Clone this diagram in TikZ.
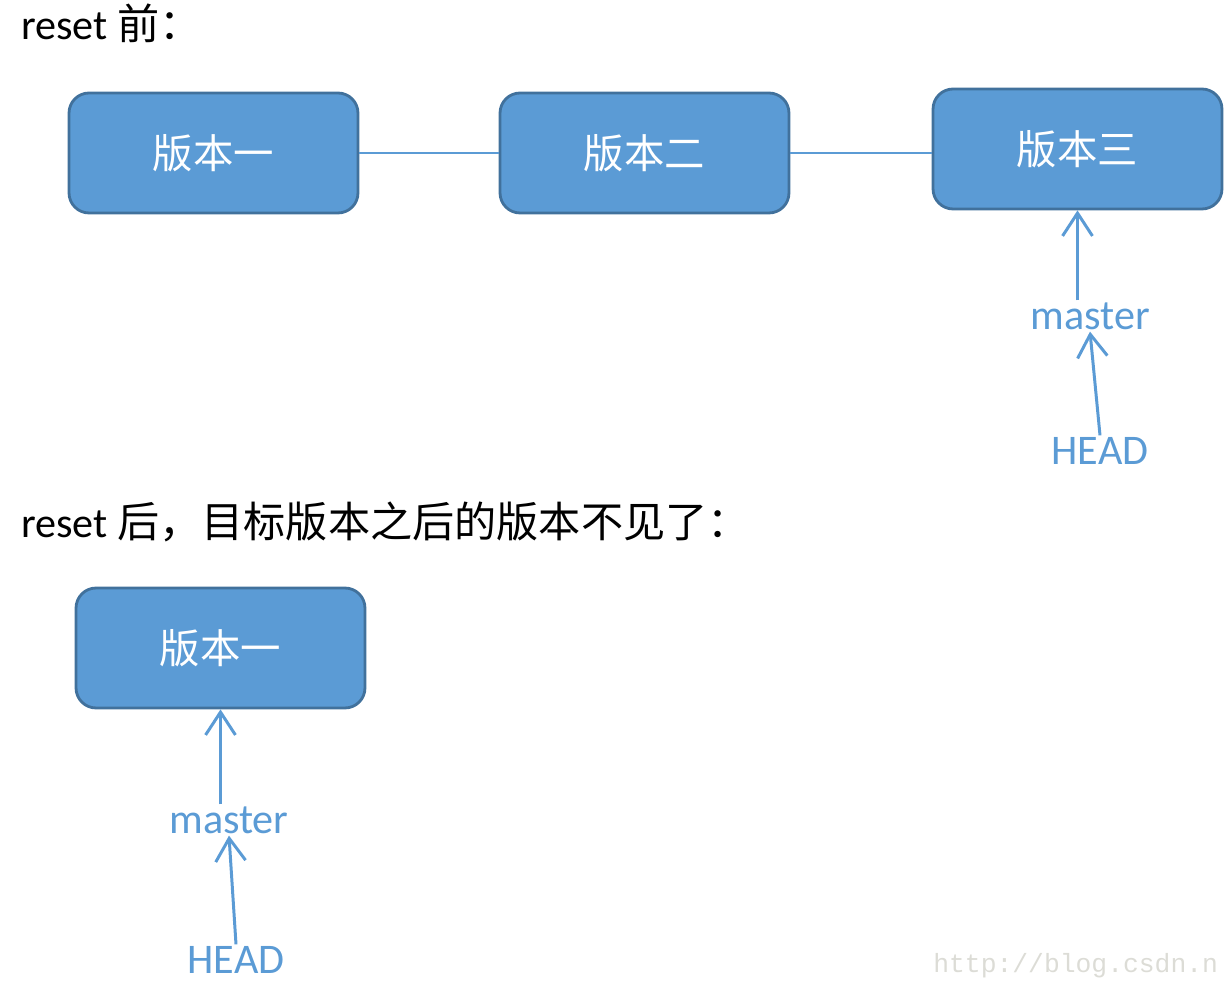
\documentclass[tikz,border=0pt]{standalone}
\usepackage{fontspec}
\setmainfont{Carlito}
\newfontfamily\cjk{Noto Sans CJK SC}
\newfontfamily\wmark{Liberation Mono}
\usetikzlibrary{arrows.meta}
\definecolor{boxfill}{HTML}{5B9BD5}
\definecolor{boxline}{HTML}{41719C}
\definecolor{marktext}{HTML}{DCDCD6}
\begin{document}
\begin{tikzpicture}[x=0.02cm,y=-0.02cm,
    ver/.style={draw=boxline,fill=boxfill,line width=1.6pt,rounded corners=0.4cm,
        minimum width=5.78cm,minimum height=2.4cm,text=white,font=\cjk\fontsize{23}{27}\selectfont},
    ptr/.style={text=boxfill,inner sep=1pt,font=\fontsize{24}{28}\selectfont},
    link/.style={draw=boxfill,line width=1.3pt},
    ptrarrow/.style={draw=boxfill,line width=1.7pt,-{Straight Barb[length=13pt,width=17pt,line width=1.7pt]}}]
        \useasboundingbox (0,0) rectangle (1227,996);
        \node[anchor=base west,font=\fontsize{24}{28}\selectfont] (t1) at (15,40) {reset {\cjk 前：}};
        \node[ver] (v1) at (213.5,153) {版本一};
        \node[ver] (v2) at (644.5,153) {版本二};
        \node[ver] (v3) at (1077.5,149) {版本三};
        \draw[link] (v1) -- (v2);
        \draw[link] (v2.east) -- (v3.west |- v2.east);
        \node[ptr] (m1) at (1090,316) {master};
        \node[ptr] (h1) at (1100,451) {HEAD};
        \draw[ptrarrow] (m1.north -| v3.south) -- (v3.south);
        \draw[ptrarrow] (h1.north) -- (m1.south);
        \node[anchor=base west,font=\fontsize{24}{28}\selectfont] (t2) at (15,538) {reset {\cjk 后，目标版本之后的版本不见了：}};
        \node[ver] (w1) at (220.5,648) {版本一};
        \node[ptr] (m2) at (229,820) {master};
        \node[ptr] (h2) at (236,960) {HEAD};
        \draw[ptrarrow] (m2.north -| w1.south) -- (w1.south);
        \draw[ptrarrow] (h2.north) -- (m2.south);
        \node[anchor=base west,inner sep=0pt,text=marktext,font=\wmark\fontsize{15}{18}\selectfont] (wm) at (933,972) {http://blog.csdn.n};
\end{tikzpicture}
\end{document}
